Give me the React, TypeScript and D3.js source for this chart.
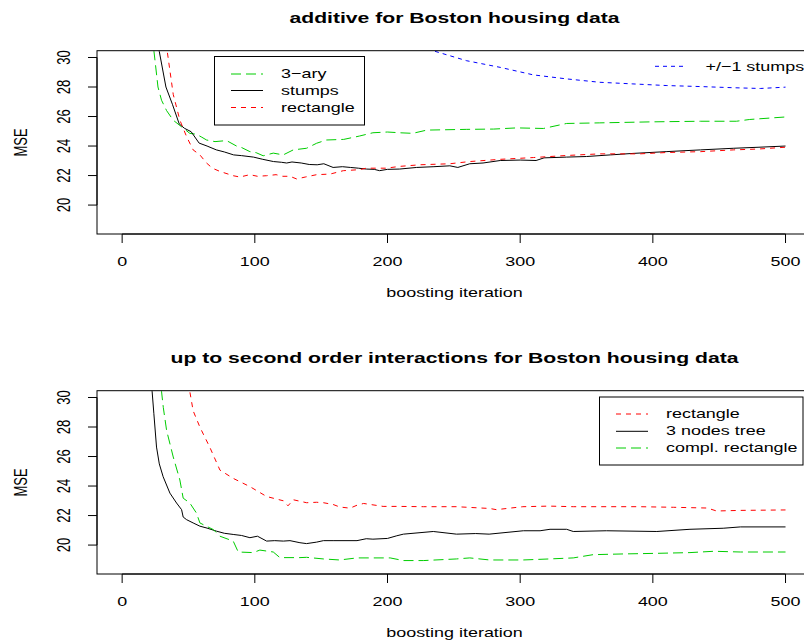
import React from "react";
import * as d3 from "d3";

// ---------- data (boosting iteration, MSE) ----------
const xTicks = [0, 100, 200, 300, 400, 500];
const yTicks = [20, 22, 24, 26, 28, 30];

const titleTop = "additive for Boston housing data";
const titleBottom = "up to second order interactions for Boston housing data";
const xLabel = "boosting iteration";
const yLabel = "MSE";

const topStumps: [number, number][] = [
  [24, 32.5], [28, 30.4], [33, 28.0], [38, 26.8], [43, 25.5], [47, 25.2], [52, 24.97], [58, 24.2],
  [64, 24.0], [71, 23.74], [77, 23.6], [84, 23.4], [90, 23.35], [99, 23.25], [106, 23.1], [114, 22.95],
  [120, 22.9], [124, 22.85], [128, 22.92], [135, 22.85], [141, 22.75], [147, 22.73], [152, 22.8],
  [159, 22.55], [166, 22.6], [172, 22.55], [178, 22.5], [184, 22.44], [190, 22.42], [194, 22.33],
  [200, 22.42], [209, 22.44], [222, 22.55], [235, 22.6], [247, 22.66], [253, 22.55], [262, 22.8],
  [272, 22.85], [285, 23.02], [300, 23.05], [312, 23.02], [318, 23.2], [335, 23.25], [350, 23.29],
  [368, 23.4], [385, 23.5], [410, 23.62], [436, 23.74], [461, 23.85], [480, 23.92], [500, 24.0],
];

const topRectangle: [number, number][] = [
  [30, 33], [34, 30.4], [38.5, 27.5], [43.5, 25.75], [48.6, 24.63], [53.5, 23.74], [58.6, 23.4],
  [63.6, 22.85], [68, 22.5], [73.7, 22.28], [83.7, 21.99], [88.7, 21.9], [96.3, 22.06], [102, 21.95],
  [108.8, 21.99], [116, 22.06], [121, 21.95], [126.5, 21.95], [131.5, 21.77], [138, 21.9], [146.6, 22.06],
  [156.7, 22.1], [166.7, 22.33], [179, 22.4], [184, 22.5], [199, 22.5], [209, 22.62], [224.5, 22.73],
  [247, 22.8], [262, 22.95], [285, 23.1], [310, 23.22], [335, 23.36], [360, 23.47], [390, 23.47],
  [410, 23.56], [436, 23.62], [461, 23.74], [480, 23.8], [500, 23.92],
];

const topTernary: [number, number][] = [
  [21, 32.5], [24, 30.4], [27, 28.0], [29.7, 27.1], [33.5, 26.4], [38.5, 25.75], [44.8, 25.3],
  [51, 24.86], [56, 24.8], [60, 24.6], [63.6, 24.41], [70, 24.3], [78.7, 24.37], [86.2, 24.0],
  [90, 23.9], [96.3, 23.62], [101, 23.55], [106.3, 23.34], [113.9, 23.52], [121.4, 23.4], [129, 23.74],
  [139, 23.85], [146.6, 24.19], [154, 24.41], [167, 24.45], [179, 24.68], [189, 24.9], [200, 24.95],
  [209, 24.9], [219, 24.86], [229.6, 25.08], [259.7, 25.13], [280, 25.15], [297.4, 25.23],
  [317.5, 25.19], [335, 25.53], [360, 25.57], [400, 25.64], [436, 25.68], [463, 25.68], [473, 25.8],
  [500, 25.97],
];

const topPlusMinus: [number, number][] = [
  [225, 30.9], [234.6, 30.45], [259.7, 29.78], [285, 29.33], [310, 28.82], [335, 28.55], [360, 28.32],
  [385, 28.21], [410, 28.1], [436, 28.03], [461, 27.95], [481, 27.9], [500, 27.99],
];

const botTree: [number, number][] = [
  [21, 32], [22.6, 30.4], [23.9, 28.9], [25.9, 26.64], [28, 25.5], [30.9, 24.63], [36, 23.52],
  [41, 22.85], [44.8, 22.4], [46, 21.9], [48.6, 21.72], [53.5, 21.5], [58.6, 21.28], [64, 21.15],
  [71.2, 20.94], [77, 20.8], [83.7, 20.72], [90, 20.65], [96.3, 20.5], [102, 20.6], [108.9, 20.27],
  [115, 20.3], [121.5, 20.27], [126.5, 20.3], [134, 20.16], [139, 20.1], [146.6, 20.2], [151.7, 20.3],
  [159, 20.3], [177, 20.3], [184, 20.43], [189, 20.4], [200, 20.45], [207, 20.63], [212, 20.74],
  [234.5, 20.92], [252, 20.74], [266.5, 20.78], [276.6, 20.74], [302.4, 20.97], [315, 20.97],
  [322.5, 21.07], [335, 21.07], [340, 20.92], [365, 20.97], [403, 20.92], [428, 21.07], [453, 21.14],
  [466, 21.23], [500, 21.23],
];

const botRectangle: [number, number][] = [
  [49, 31], [51, 30.4], [53.5, 29.1], [58.6, 27.99], [66, 26.64], [73.7, 25.08], [83.7, 24.52],
  [96.3, 23.96], [108.9, 23.29], [121.5, 23.0], [125, 22.66], [129, 23.07], [139, 22.87], [146.6, 22.9],
  [151.7, 22.87], [159, 22.75], [164, 22.58], [171.7, 22.5], [177, 22.7], [182, 22.82], [196.7, 22.62],
  [209, 22.62], [227, 22.6], [252, 22.6], [277, 22.48], [282, 22.4], [302, 22.6], [322, 22.64],
  [340, 22.6], [365, 22.6], [390, 22.6], [415.7, 22.56], [441, 22.51], [448, 22.31], [466, 22.35],
  [500, 22.38],
];

const botComplRect: [number, number][] = [
  [28, 31.5], [29.7, 30.4], [31, 29.33], [33.5, 27.77], [38.5, 25.97], [43.5, 24.41], [46, 23.18],
  [51, 22.85], [56, 22.17], [58.6, 21.5], [63, 21.3], [68.7, 21.05], [73.7, 20.6], [83.7, 20.27],
  [87.5, 19.53], [98.8, 19.49], [103.8, 19.66], [113.9, 19.53], [118.9, 19.15], [134, 19.15],
  [139, 19.17], [151.7, 19.06], [164, 18.99], [177, 19.13], [202, 19.13], [212, 18.95], [227, 18.95],
  [252, 19.06], [262, 19.13], [277, 18.99], [302, 18.99], [322, 19.06], [340, 19.13], [355, 19.35],
  [378, 19.4], [403, 19.44], [428, 19.49], [446, 19.58], [466, 19.53], [500, 19.53],
];

// ---------- styling ----------
const GREEN = "#00CD00";
const RED = "#FF0000";
const BLUE = "#0000FF";
const BLACK = "#000000";
const DASH_SHORT = "5,5";
const DASH_LONG = "10,5";
const FONT = "'Liberation Sans', Arial, Helvetica, sans-serif";
const SX = 1.38; // horizontal stretch of the original raster

type Series = { name: string; data: [number, number][]; color: string; dash?: string };

const W = 804;
const H = 642;
const X0 = 97;
const X1 = 812;
const PANEL_TOP = 50.7;
const PANEL_BOTTOM = 234;

const xScale = d3.scaleLinear().domain([-18.96, 519.96]).range([X0, X1]);

function Txt({ x, y, children, anchor = "middle", rotate = false, size = 13, bold = false }: any) {
  const tr = rotate
    ? `translate(${x},${y}) scale(${SX},1) rotate(-90)`
    : `translate(${x},${y}) scale(${SX},1)`;
  return (
    <text
      transform={tr}
      textAnchor={anchor}
      fontFamily={FONT}
      fontSize={size}
      fontWeight={bold ? "bold" : "normal"}
      fill="#000"
    >
      {children}
    </text>
  );
}

function Panel({
  dy,
  title,
  series,
  id,
  legend,
}: {
  dy: number;
  title: string;
  series: Series[];
  id: string;
  legend: React.ReactNode;
}) {
  const y0 = PANEL_TOP + dy;
  const y1 = PANEL_BOTTOM + dy;
  const yScale = d3.scaleLinear().domain([18.04, 30.46]).range([y1, y0]);
  const line = d3
    .line<[number, number]>()
    .x((d) => xScale(d[0]))
    .y((d) => yScale(d[1]));
  return (
    <g>
      <defs>
        <clipPath id={id}>
          <rect x={X0} y={y0} width={X1 - X0} height={y1 - y0} />
        </clipPath>
      </defs>
      <text
        x={454.5}
        y={22.7 + dy}
        textAnchor="middle"
        fontFamily={FONT}
        fontSize={15}
        fontWeight="bold"
        textLength={title === titleTop ? 330 : 568}
        lengthAdjust="spacingAndGlyphs"
      >
        {title}
      </text>
      <g clipPath={`url(#${id})`}>
        {series.map((s) => (
          <path
            key={s.name}
            d={line(s.data) || ""}
            fill="none"
            stroke={s.color}
            strokeWidth={1}
            strokeDasharray={s.dash}
          />
        ))}
      </g>
      <rect x={X0} y={y0} width={X1 - X0} height={y1 - y0} fill="none" stroke="#000" strokeWidth={1} />
      {/* x axis */}
      <line x1={xScale(xTicks[0])} x2={xScale(xTicks[xTicks.length - 1])} y1={y1} y2={y1} stroke="#000" />
      {xTicks.map((t) => (
        <g key={t}>
          <line x1={xScale(t)} x2={xScale(t)} y1={y1} y2={y1 + 9} stroke="#000" />
          <Txt x={xScale(t)} y={y1 + 31.5}>{String(t)}</Txt>
        </g>
      ))}
      {/* y axis */}
      <line x1={X0} x2={X0} y1={yScale(yTicks[0])} y2={yScale(yTicks[yTicks.length - 1])} stroke="#000" />
      {yTicks.map((t) => (
        <g key={t}>
          <line x1={X0} x2={X0 - 9} y1={yScale(t)} y2={yScale(t)} stroke="#000" />
          <Txt x={70} y={yScale(t)} rotate>{String(t)}</Txt>
        </g>
      ))}
      <Txt x={454.5} y={297 + dy}>{xLabel}</Txt>
      <Txt x={27} y={142.5 + dy} rotate>{yLabel}</Txt>
      {legend}
    </g>
  );
}

function LegendRow({ x, y, s, textX }: { x: number; y: number; s: Series; textX: number }) {
  return (
    <g>
      <line x1={x} x2={x + 32} y1={y} y2={y} stroke={s.color} strokeDasharray={s.dash} />
      <Txt x={textX} y={y + 4} anchor="start">{s.name}</Txt>
    </g>
  );
}

export default function App() {
  const topSeries: Series[] = [
    { name: "3\u2212ary", data: topTernary, color: GREEN, dash: DASH_LONG },
    { name: "stumps", data: topStumps, color: BLACK },
    { name: "rectangle", data: topRectangle, color: RED, dash: DASH_SHORT },
    { name: "+/\u22121 stumps", data: topPlusMinus, color: BLUE, dash: "4,4" },
  ];
  const botSeries: Series[] = [
    { name: "rectangle", data: botRectangle, color: RED, dash: DASH_SHORT },
    { name: "3 nodes tree", data: botTree, color: BLACK },
    { name: "compl. rectangle", data: botComplRect, color: GREEN, dash: DASH_LONG },
  ];

  const topLegend = (
    <g>
      <rect x={214.5} y={56.5} width={150} height={68.5} fill="white" stroke="#000" />
      <LegendRow x={231} y={74} s={topSeries[0]} textX={281} />
      <LegendRow x={231} y={90.5} s={topSeries[1]} textX={281} />
      <LegendRow x={231} y={107.5} s={topSeries[2]} textX={281} />
      <line x1={655} x2={687} y1={66.3} y2={66.3} stroke={BLUE} strokeDasharray="4,4" />
      <Txt x={705.5} y={71} anchor="start">{topSeries[3].name}</Txt>
    </g>
  );
  const botLegend = (
    <g>
      <rect x={599.5} y={397} width={203.5} height={68} fill="white" stroke="#000" />
      <LegendRow x={616} y={414} s={botSeries[0]} textX={666} />
      <LegendRow x={616} y={431.3} s={botSeries[1]} textX={666} />
      <LegendRow x={616} y={448} s={botSeries[2]} textX={666} />
    </g>
  );

  return (
    <svg
      width={W}
      height={H}
      style={{ position: "absolute", left: 0, top: 0, background: "#fff" }}
    >
      <rect x={0} y={0} width={W} height={H} fill="#fff" />
      <Panel dy={0} title={titleTop} series={topSeries} id="clipTop" legend={topLegend} />
      <Panel dy={340} title={titleBottom} series={botSeries} id="clipBot" legend={botLegend} />
    </svg>
  );
}
